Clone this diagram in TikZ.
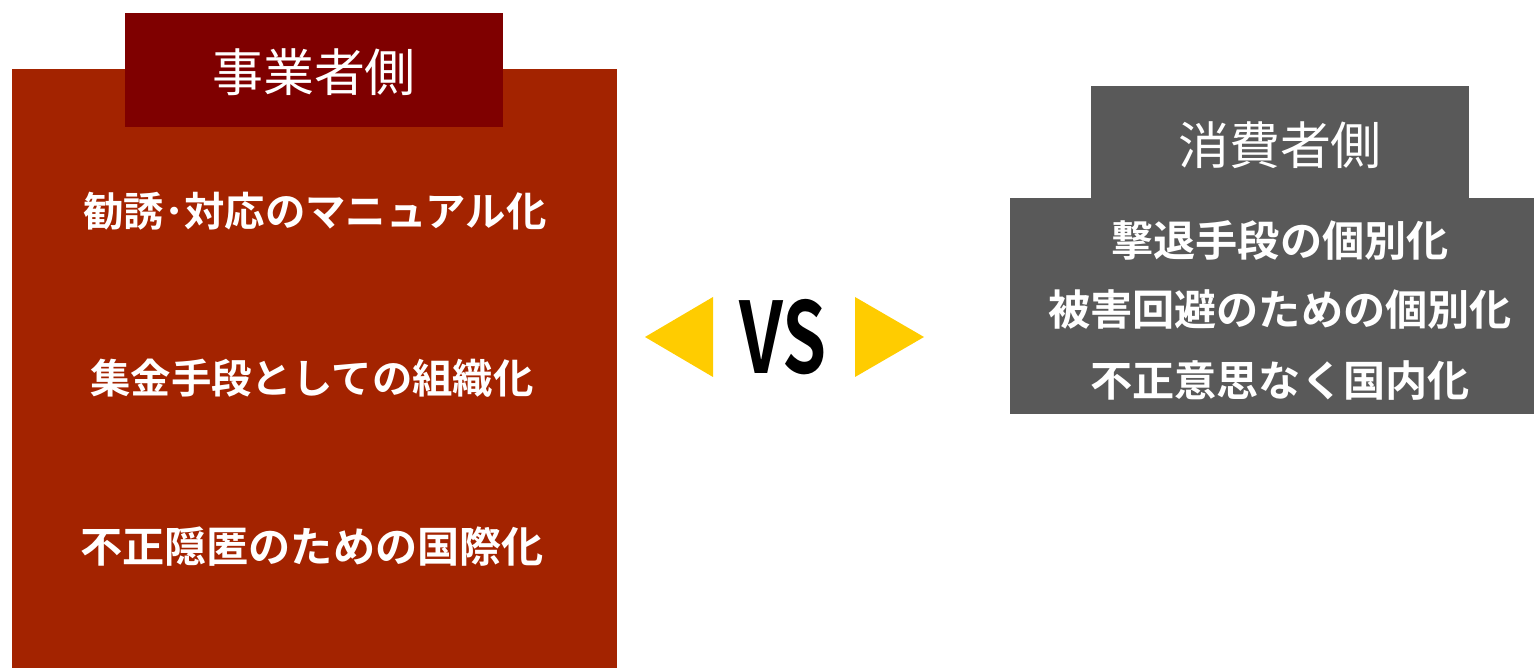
\documentclass[tikz,border=0pt]{standalone}
\usepackage{fontspec}
\newfontfamily\cjk{Noto Sans CJK JP}
\newfontfamily\cjkb{Noto Sans CJK JP Bold}
\usetikzlibrary{positioning}
\definecolor{bizred}{HTML}{A32300}
\definecolor{bizdark}{HTML}{7F0000}
\definecolor{congray}{HTML}{595959}
\definecolor{vsyellow}{HTML}{FFCC00}
\tikzset{
  panel/.style={fill=#1, draw=none},
  titletext/.style={text=white, font=\cjk\fontsize{29}{34}\selectfont, inner sep=0pt},
  itemtext/.style={text=white, font=\cjkb\fontsize{23}{28}\selectfont, inner sep=0pt},
  bigitem/.style={text=white, font=\cjkb\fontsize{24}{29}\selectfont, inner sep=0pt},
  tri/.style={fill=vsyellow, draw=none}
}
\begin{document}
\begin{tikzpicture}[x=0.02cm, y=-0.02cm]
\useasboundingbox (0,0) rectangle (1534,668);
% left side
\path[panel=bizred] (12,69) rectangle (617,668);
\path[panel=bizdark] (125,13) rectangle (503,127);
\node[titletext] (lt) at (314,72) {事業者側};
\node[itemtext] (l1) at (315,211) {勧誘･対応のマニュアル化};
\node[itemtext] (l2) at (312,378) {集金手段としての組織化};
\node[bigitem] (l3) at (312,547) {不正隠匿のための国際化};
% VS
\path[tri] (645,337) -- (713,297) -- (713,377) -- cycle;
\path[tri] (924,337) -- (855,297) -- (855,377) -- cycle;
\node[inner sep=0pt, font=\cjkb\fontsize{56}{60}\selectfont] (vs) at (783,337) {\scalebox{0.72}[1]{VS}};
% right side
\path[panel=congray] (1091,86) rectangle (1469,199);
\path[panel=congray] (1010,198) rectangle (1534,414);
\node[titletext] (rt) at (1280,145) {消費者側};
\node[bigitem] (r1) at (1280,240) {撃退手段の個別化};
\node[bigitem] (r2) at (1280,310) {被害回避のための個別化};
\node[bigitem] (r3) at (1280,381) {不正意思なく国内化};
\end{tikzpicture}
\end{document}
